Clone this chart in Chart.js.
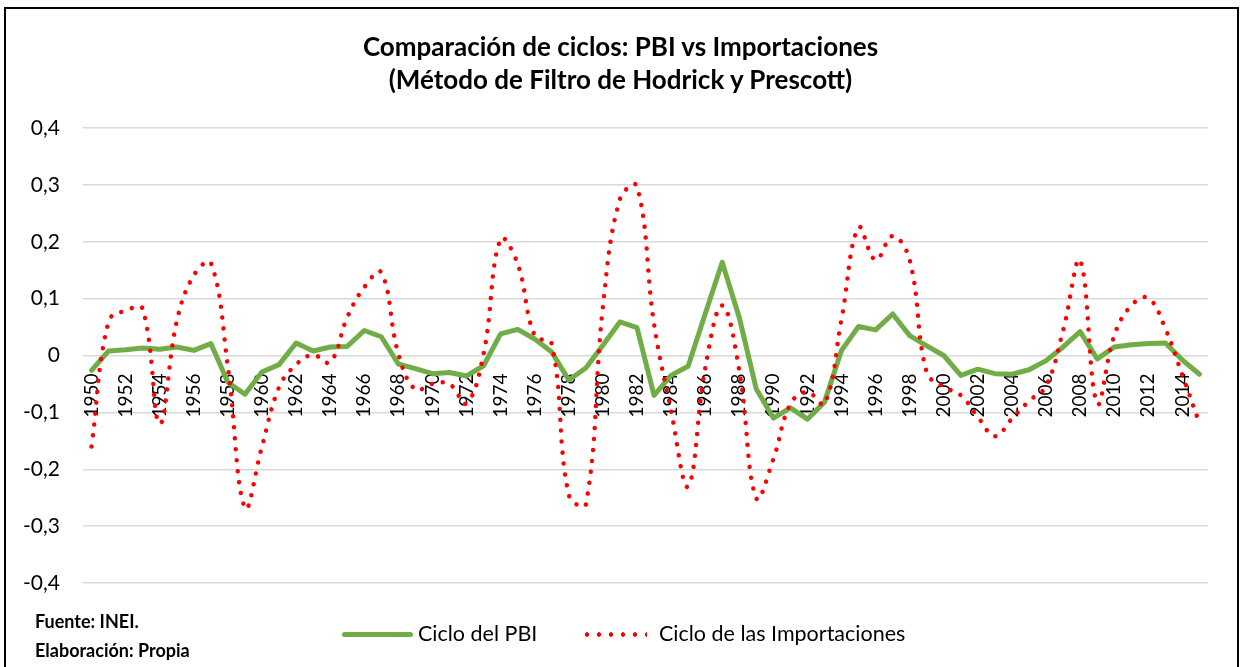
<!DOCTYPE html>
<html>
<head>
<meta charset="utf-8">
<script src="https://cdn.jsdelivr.net/npm/chart.js@4"></script>
<style>
  body { margin:0; background:#fff; font-family: Lato, "Open Sans", sans-serif; }
  #wrap { position:relative; width:1241px; height:667px; overflow:hidden; background:#fff; }
  #chart { position:absolute; left:0; top:0; }
  .frame { position:absolute; left:4px; top:7px; width:1235px; height:720px; border:2px solid #000; box-sizing:border-box; pointer-events:none; }
  .title { position:absolute; left:0; width:1241px; text-align:center; font-weight:bold; font-size:26px; color:#000; }
  .note { position:absolute; left:35px; font-weight:bold; font-size:18px; color:#000; }
  .leg { position:absolute; top:620px; font-size:21.5px; color:#000; }
  .swatch-line { position:absolute; top:632px; left:342px; width:71px; height:5px; border-radius:3px; background:#70AD47; }
  .swatch-dots { position:absolute; top:632px; left:581px; width:66px; height:5px;
    background: radial-gradient(circle, #ff0000 2px, transparent 2.4px) 0 0 / 12px 5px repeat-x; }
</style>
</head>
<body>
<div id="wrap">
  <canvas id="chart" width="1241" height="667"></canvas>
  <div class="title" style="top:30px">Comparación de ciclos: PBI vs Importaciones</div>
  <div class="title" style="top:63px">(Método de Filtro de Hodrick y Prescott)</div>
  <div class="note" style="top:610px">Fuente: INEI.</div>
  <div class="note" style="top:639px">Elaboración: Propia</div>
  <div class="swatch-line"></div>
  <div class="leg" style="left:418px">Ciclo del PBI</div>
  <div class="swatch-dots"></div>
  <div class="leg" style="left:659px">Ciclo de las Importaciones</div>
  <div class="frame"></div>
</div>
<script>
// years on the category axis
const years = [];
for (let y = 1950; y <= 2015; y++) years.push(String(y));

// cycle of GDP (PBI)
const cicloPBI = [
  -0.026, 0.008, 0.010, 0.013, 0.011, 0.015, 0.009, 0.021, -0.047, -0.068,
  -0.029, -0.016, 0.022, 0.008, 0.015, 0.016, 0.044, 0.033, -0.015, -0.023,
  -0.032, -0.030, -0.036, -0.018, 0.038, 0.046, 0.029, 0.006, -0.043, -0.022,
  0.018, 0.059, 0.049, -0.070, -0.035, -0.019, 0.073, 0.164, 0.067, -0.059,
  -0.110, -0.092, -0.112, -0.082, 0.009, 0.051, 0.045, 0.073, 0.035, 0.017,
  0.000, -0.035, -0.024, -0.032, -0.033, -0.025, -0.009, 0.015, 0.042, -0.006,
  0.015, 0.019, 0.021, 0.022, -0.008, -0.033
];

// cycle of imports
const cicloImport = [
  -0.160, 0.060, 0.079, 0.082, -0.120, 0.060, 0.141, 0.163, -0.020, -0.268,
  -0.160, -0.056, -0.016, 0.001, -0.012, 0.067, 0.120, 0.146, 0.003, -0.060,
  -0.050, -0.050, -0.084, 0.003, 0.205, 0.161, 0.035, 0.020, -0.245, -0.262,
  0.085, 0.275, 0.298, 0.056, -0.097, -0.230, -0.023, 0.088, -0.026, -0.251,
  -0.182, -0.085, -0.064, -0.085, 0.064, 0.225, 0.168, 0.210, 0.168, -0.030,
  -0.055, -0.070, -0.108, -0.142, -0.111, -0.080, -0.054, 0.044, 0.167, -0.084,
  0.035, 0.088, 0.101, 0.047, -0.035, -0.119
];

const yMin = -0.4, yMax = 0.4, yStep = 0.1;

const fmt = v => {
  const s = v.toFixed(1).replace('.', ',');
  return (s === '0,0' || s === '-0,0') ? '0' : s;
};

new Chart(document.getElementById('chart'), {
  type: 'line',
  data: {
    labels: years,
    datasets: [
      { label: 'Ciclo del PBI', data: cicloPBI, borderColor: '#70AD47', borderWidth: 5,
        tension: 0, pointRadius: 0, borderJoinStyle: 'round', borderCapStyle: 'round', order: 2 },
      { label: 'Ciclo de las Importaciones', data: cicloImport, borderColor: '#FF0000', borderWidth: 4.5,
        borderDash: [0.01, 11], borderCapStyle: 'round', tension: 0.4, pointRadius: 0, order: 1 }
    ]
  },
  options: {
    responsive: false,
    animation: false,
    layout: { padding: { left: 0, top: 128, right: 33, bottom: 84 } },
    plugins: { legend: { display: false }, tooltip: { enabled: false } },
    scales: {
      x: {
        position: { y: 0 },
        offset: true,
        grid: { display: false, drawTicks: false },
        border: { display: false },
        ticks: {
          autoSkip: false, minRotation: 90, maxRotation: 90, padding: 18,
          color: '#000', font: { family: 'Lato', size: 19 },
          callback: function(val, i) { return i % 2 === 0 ? this.getLabelForValue(val) : ''; }
        }
      },
      y: {
        min: yMin, max: yMax,
        afterFit: s => { s.width = 83; },
        grid: { color: '#d9d9d9', lineWidth: 1.5, drawTicks: false },
        border: { display: false },
        ticks: { stepSize: yStep, padding: 23, color: '#000', font: { family: 'Lato', size: 21 }, callback: v => fmt(v) }
      }
    }
  }
});
</script>
</body>
</html>
